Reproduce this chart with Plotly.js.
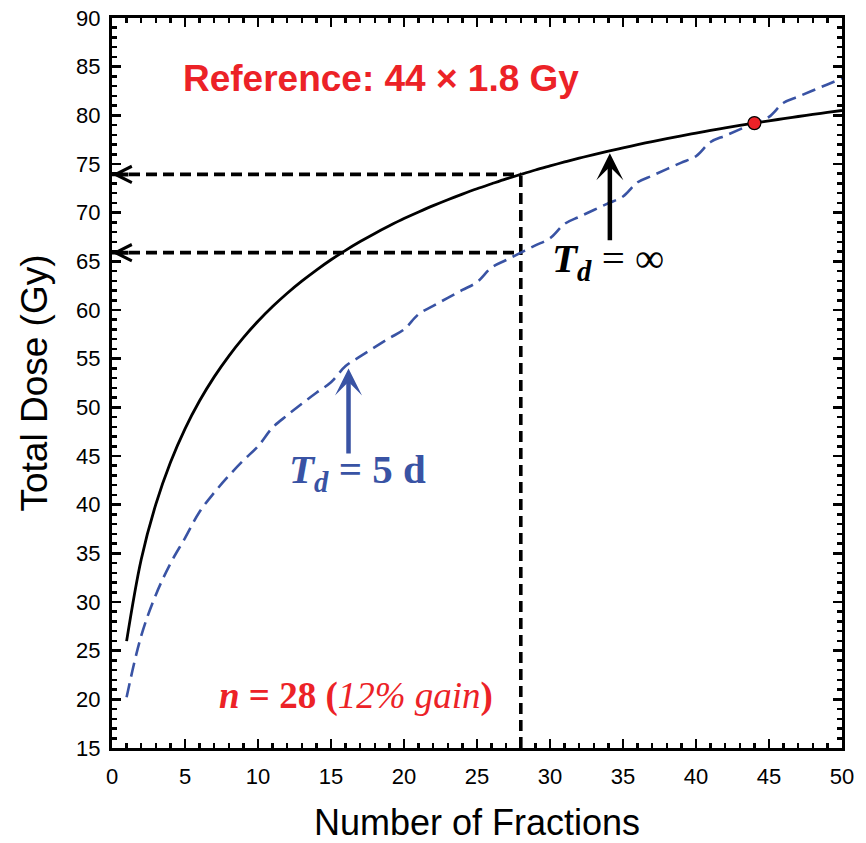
<!DOCTYPE html>
<html>
<head>
<meta charset="utf-8">
<script src="https://cdn.plot.ly/plotly-3.0.1.min.js"></script>
<style>
  html, body { margin: 0; padding: 0; background: #fff; }
  #chart { width: 866px; height: 843px; }
</style>
</head>
<body>
<div id="chart"></div>
<script>
// Number of fractions
const fractions = [1,2,3,4,5,6,7,8,9,10,11,12,13,14,15,16,17,18,19,20,
                   21,22,23,24,25,26,27,28,29,30,31,32,33,34,35,36,37,38,39,40,
                   41,42,43,44,45,46,47,48,49,50];

// Isoeffective total dose (Gy), no repopulation (T_d = infinity)
const doseNoRepop = [25.98,34.37,40.03,44.33,47.79,50.67,53.13,55.27,57.16,58.84,
                     60.35,61.72,62.96,64.10,65.16,66.13,67.03,67.87,68.65,69.39,
                     70.07,70.72,71.33,71.91,72.46,72.97,73.47,73.93,74.38,74.80,
                     75.21,75.60,75.97,76.32,76.66,76.99,77.31,77.61,77.90,78.18,
                     78.45,78.71,78.96,79.20,79.43,79.66,79.88,80.09,80.30,80.50];

// Isoeffective total dose (Gy), repopulation with T_d = 5 d (weekend breaks)
const doseRepop5d = [20.22,26.52,30.73,33.95,36.57,39.27,41.23,42.97,44.55,46.00,
                     47.92,49.18,50.37,51.50,52.57,54.24,55.23,56.19,57.11,58.00,
                     59.57,60.42,61.25,62.06,62.86,64.37,65.14,65.89,66.64,67.37,
                     68.85,69.57,70.27,70.97,71.66,73.12,73.80,74.48,75.14,75.80,
                     77.26,77.91,78.56,79.20,79.84,81.29,81.92,82.55,83.17,83.80];

// Reference schedule and the shortened schedule
const refFractions = 44;
const refDosePerFraction = 1.8;
const shortFractions = 28;

const xTicks = [0,5,10,15,20,25,30,35,40,45,50];
const yTicks = [15,20,25,30,35,40,45,50,55,60,65,70,75,80,85,90];

const RED = '#ec2227';
const BLUE = '#3953a4';

const iShort = fractions.indexOf(shortFractions);
const dShortNoRepop = doseNoRepop[iShort];
const dShortRepop = doseRepop5d[iShort];
const refTotal = refFractions * refDosePerFraction;

const guide = {color: 'black', width: 3.6, dash: '11px,6px'};

const traces = [
  // guide lines at n = 28
  {x: [shortFractions, shortFractions], y: [yTicks[0], dShortNoRepop],
   mode: 'lines', line: guide, hoverinfo: 'skip'},
  {x: [xTicks[0], shortFractions], y: [dShortNoRepop, dShortNoRepop],
   mode: 'lines', line: guide, hoverinfo: 'skip'},
  {x: [xTicks[0], shortFractions], y: [dShortRepop, dShortRepop],
   mode: 'lines', line: guide, hoverinfo: 'skip'},
  // T_d = 5 d curve
  {x: fractions, y: doseRepop5d, mode: 'lines',
   line: {color: BLUE, width: 2.6, dash: '14px,7px', shape: 'spline', smoothing: 1}},
  // T_d = infinity curve
  {x: fractions, y: doseNoRepop, mode: 'lines',
   line: {color: 'black', width: 2.8, shape: 'spline', smoothing: 1}},
  // reference point
  {x: [refFractions], y: [refTotal], mode: 'markers',
   marker: {color: RED, size: 13, line: {color: 'black', width: 1.2}}}
];

const axisCommon = {
  showgrid: false, zeroline: false,
  showline: true, linecolor: 'black', linewidth: 3, mirror: 'allticks',
  ticks: 'inside', ticklen: 9, tickwidth: 2.5, tickcolor: 'black',
  tickfont: {family: 'Liberation Sans, Arial, sans-serif', size: 22, color: 'black'},
  minor: {dtick: 1, ticks: 'inside', ticklen: 5, tickwidth: 2.5, tickcolor: 'black'}
};

const layout = {
  width: 866, height: 843,
  margin: {l: 112, r: 24, t: 18, b: 95},
  paper_bgcolor: 'white', plot_bgcolor: 'white',
  showlegend: false,
  xaxis: Object.assign({}, axisCommon, {
    range: [xTicks[0], xTicks[xTicks.length - 1]],
    tickvals: xTicks, ticklabelstandoff: 7,
    title: {text: 'Number of Fractions', standoff: 24,
            font: {family: 'Liberation Sans, Arial, sans-serif', size: 36, color: 'black'}}
  }),
  yaxis: Object.assign({}, axisCommon, {
    range: [yTicks[0], yTicks[yTicks.length - 1]],
    tickvals: yTicks, ticklabelstandoff: 4,
    title: {text: 'Total Dose (Gy)', standoff: 18,
            font: {family: 'Liberation Sans, Arial, sans-serif', size: 37, color: 'black'}}
  }),
  annotations: [
    {x: 18.4, y: 83.8, xref: 'x', yref: 'y', showarrow: false,
     text: '<b>Reference: ' + refFractions + ' \u00d7 ' + refDosePerFraction + ' Gy</b>',
     font: {family: 'Liberation Sans, Arial, sans-serif', size: 37, color: RED},
     xanchor: 'center', yanchor: 'middle'},
    {x: 16.7, y: 20.3, xref: 'x', yref: 'y', showarrow: false,
     text: '<b><i>n</i> = ' + shortFractions + ' (</b><i>12% gain</i><b>)</b>',
     font: {family: 'Liberation Serif, Times New Roman, serif', size: 37, color: RED},
     xanchor: 'center', yanchor: 'middle'},
    {x: 30.0, y: 65.0, xref: 'x', yref: 'y', showarrow: false,
     text: '<b><i>T<sub>d</sub></i></b> = \u221e',
     font: {family: 'Liberation Serif, Times New Roman, serif', size: 41, color: 'black'},
     xanchor: 'left', yanchor: 'middle'},
    {x: 12.0, y: 43.4, xref: 'x', yref: 'y', showarrow: false,
     text: '<b><i>T<sub>d</sub></i> = 5 d</b>',
     font: {family: 'Liberation Serif, Times New Roman, serif', size: 41, color: BLUE},
     xanchor: 'left', yanchor: 'middle'},
    // pointer arrows to the curves
    {x: 34.1, y: 76.1, ax: 34.1, ay: 67.0, xref: 'x', yref: 'y', axref: 'x', ayref: 'y',
     text: '', showarrow: true, arrowhead: 3, arrowsize: 1, arrowwidth: 4.5, arrowcolor: 'black'},
    {x: 16.2, y: 54.0, ax: 16.2, ay: 45.1, xref: 'x', yref: 'y', axref: 'x', ayref: 'y',
     text: '', showarrow: true, arrowhead: 3, arrowsize: 1, arrowwidth: 4.5, arrowcolor: BLUE},
    // open heads on the dashed guides at the dose axis
    {x: xTicks[0], y: dShortNoRepop, ax: 18, ay: 0, xref: 'x', yref: 'y',
     text: '', showarrow: true, arrowhead: 5, arrowsize: 0.8, arrowwidth: 4, arrowcolor: 'black'},
    {x: xTicks[0], y: dShortRepop, ax: 18, ay: 0, xref: 'x', yref: 'y',
     text: '', showarrow: true, arrowhead: 5, arrowsize: 0.8, arrowwidth: 4, arrowcolor: 'black'}
  ]
};

Plotly.newPlot('chart', traces, layout, {staticPlot: true, displayModeBar: false});
</script>
</body>
</html>
